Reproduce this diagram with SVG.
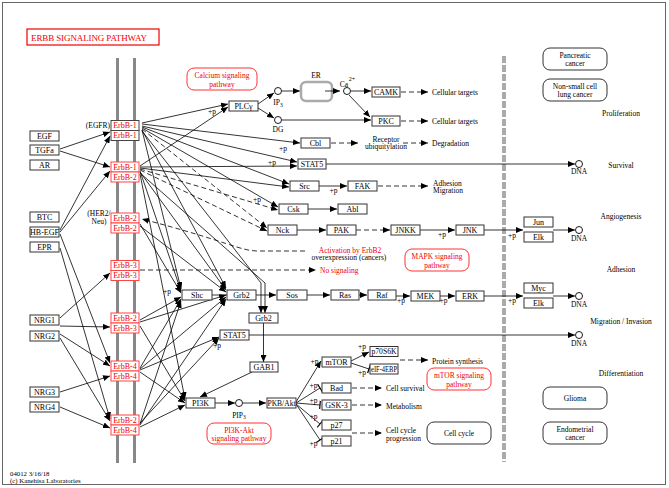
<svg xmlns="http://www.w3.org/2000/svg" width="669" height="488" viewBox="0 0 669 488">
<defs>
<marker id="a" markerUnits="userSpaceOnUse" markerWidth="7" markerHeight="6" refX="7" refY="3" orient="auto" viewBox="0 0 7 6"><path d="M0,0 L7,3 L0,6 z" fill="#000"/></marker>
<marker id="t" markerUnits="userSpaceOnUse" markerWidth="2" markerHeight="9" refX="1" refY="4.5" orient="auto" viewBox="0 0 2 9"><path d="M1,0 V9" stroke="#000" stroke-width="1.2"/></marker>
<style>
text{font-family:"Liberation Serif","Times New Roman",serif;font-size:7.5px;fill:#000}
.c{text-anchor:middle}
.e{text-anchor:end}
.nb rect{fill:#fff;stroke:#333;stroke-width:1}
.nb text{font-size:8px;text-anchor:middle}
.rc rect{fill:#fff;stroke:#f44;stroke-width:1}
.rc text{font-size:8px;text-anchor:middle;fill:#e00}
.rk rect{stroke:#444}
.pw rect{fill:#fff;stroke:#f33;stroke-width:1}
.pw text{fill:#e00;text-anchor:middle}
.ob rect{fill:#fff;stroke:#333;stroke-width:1}
.ob text{text-anchor:middle}
.red{fill:#e00}
.sm{font-size:6.8px}
.cn line,.cn path,.cn polyline{stroke:#000;stroke-width:0.8;fill:none}
.ar{marker-end:url(#a)}
.inh{marker-end:url(#t)}
.d{stroke-dasharray:5,3}
.mem{stroke:#888;stroke-width:3}
circle.o{fill:#fff;stroke:#000;stroke-width:0.9}
</style>
</defs>
<rect x="0" y="0" width="669" height="488" fill="#fff"/>
<rect x="2.5" y="2.5" width="663" height="482" fill="none" stroke="#666" stroke-width="1"/>

<g id="title"><rect x="27" y="29" width="132" height="16" fill="#fff" stroke="#e00" stroke-width="1.2"/><text x="31" y="41" class="red" style="font-size:9px" textLength="116" lengthAdjust="spacing">ERBB  SIGNALING  PATHWAY</text></g>

<g id="membrane"><line class="mem" x1="117.5" y1="58" x2="117.5" y2="463"/><line class="mem" x1="134.5" y1="58" x2="134.5" y2="463"/></g>
<line x1="504" y1="56" x2="504" y2="462" stroke="#aaa" stroke-width="4" stroke-dasharray="7,2"/>

<g id="connectors" class="cn">
<line class="ar" x1="60" y1="149" x2="110" y2="132"/>
<line class="ar" x1="60" y1="151" x2="110" y2="167"/>
<line class="ar" x1="60" y1="230" x2="110" y2="136"/>
<line class="ar" x1="60" y1="232" x2="110" y2="171"/>
<line class="ar" x1="60" y1="234" x2="110" y2="363"/>
<line class="ar" x1="60" y1="248" x2="110" y2="419"/>
<line class="ar" x1="60" y1="318" x2="110" y2="273"/>
<line class="ar" x1="60" y1="326" x2="110" y2="327"/>
<line class="ar" x1="60" y1="334" x2="110" y2="366"/>
<line class="ar" x1="60" y1="338" x2="110" y2="421"/>
<line class="ar" x1="60" y1="392" x2="110" y2="376"/>
<line class="ar" x1="60" y1="407" x2="110" y2="428"/>
<line class="ar" x1="142" y1="123" x2="228" y2="104"/>
<line class="ar" x1="142" y1="124" x2="300" y2="143"/>
<line class="ar" x1="142" y1="126" x2="297" y2="162"/>
<line class="ar" x1="142" y1="127" x2="289" y2="184"/>
<line class="ar" x1="142" y1="128" x2="278" y2="207"/>
<line class="ar d" x1="142" y1="129" x2="267" y2="228"/>
<line class="ar" x1="142" y1="130" x2="181" y2="289"/>
<line class="ar" x1="142" y1="130" x2="226" y2="288"/>
<polyline class="ar" points="142,131 261,283 261,313"/>
<line class="ar" x1="140" y1="166" x2="228" y2="107"/>
<line class="ar" x1="140" y1="167" x2="297" y2="166"/>
<line class="ar" x1="140" y1="168" x2="289" y2="187"/>
<line class="ar d" x1="140" y1="169" x2="278" y2="210"/>
<line class="ar d" x1="140" y1="170" x2="267" y2="231"/>
<line class="ar" x1="140" y1="171" x2="181" y2="291"/>
<line class="ar" x1="140" y1="172" x2="226" y2="290"/>
<polyline class="ar" points="140,173 265,283 265,313"/>
<line class="ar" x1="140" y1="174" x2="185" y2="399"/>
<line class="ar" x1="140" y1="224" x2="181" y2="293"/>
<line class="ar" x1="140" y1="226" x2="226" y2="292"/>
<path class="ar d" d="M305,251 L258,251 C240,251 230,242 142,219"/>
<line class="ar d" x1="140" y1="270" x2="316" y2="270"/>
<line class="ar" x1="140" y1="320" x2="181" y2="297"/>
<line class="ar" x1="140" y1="322" x2="226" y2="295"/>
<line class="ar" x1="140" y1="326" x2="185" y2="401"/>
<line class="ar" x1="140" y1="368" x2="181" y2="299"/>
<line class="ar" x1="140" y1="369" x2="226" y2="297"/>
<line class="ar" x1="140" y1="372" x2="185" y2="403"/>
<line class="ar" x1="140" y1="370" x2="219" y2="337"/>
<line class="ar" x1="140" y1="424" x2="181" y2="301"/>
<line class="ar" x1="140" y1="425" x2="226" y2="299"/>
<line class="ar" x1="140" y1="427" x2="185" y2="405"/>
<line class="ar" x1="140" y1="423" x2="219" y2="338"/>
<line class="ar" x1="258" y1="104" x2="274" y2="93"/>
<line class="ar" x1="258" y1="108" x2="274" y2="118"/>
<line class="ar" x1="282" y1="91" x2="300" y2="91"/>
<line class="ar" x1="351" y1="91" x2="371" y2="91"/>
<line class="ar" x1="349" y1="95" x2="370" y2="117"/>
<line class="ar" x1="282" y1="120" x2="371" y2="120"/>
<line class="ar d" x1="401" y1="92" x2="428" y2="92"/>
<line class="ar d" x1="401" y1="121" x2="428" y2="121"/>
<line class="ar d" x1="331" y1="143" x2="358" y2="143"/>
<line class="ar d" x1="403" y1="143" x2="428" y2="143"/>
<line class="ar" x1="326" y1="164" x2="575" y2="164"/>
<line class="ar" x1="319" y1="186" x2="347" y2="186"/>
<line class="ar d" x1="378" y1="186" x2="428" y2="186"/>
<line class="ar" x1="308" y1="209" x2="337" y2="209"/>
<line class="ar" x1="297" y1="230" x2="326" y2="230"/>
<line class="ar d" x1="356" y1="230" x2="390" y2="230"/>
<line class="ar" x1="420" y1="230" x2="455" y2="230"/>
<line class="ar" x1="484" y1="230" x2="523" y2="230"/>
<line class="ar" x1="553" y1="230" x2="575" y2="230"/>
<line x1="212" y1="295" x2="227" y2="295"/>
<line class="ar" x1="256" y1="295" x2="276" y2="295"/>
<line class="ar" x1="307" y1="295" x2="330" y2="295"/>
<line class="ar" x1="359" y1="295" x2="367" y2="295"/>
<line class="ar" x1="396" y1="296" x2="410" y2="296"/>
<line class="ar" x1="440" y1="296" x2="455" y2="296"/>
<line class="ar" x1="484" y1="296" x2="523" y2="296"/>
<line class="ar" x1="553" y1="296" x2="575" y2="296"/>
<line class="ar" x1="249" y1="335" x2="575" y2="335"/>
<line class="ar" x1="263.5" y1="323" x2="263.5" y2="362"/>
<line class="ar" x1="252" y1="372" x2="200" y2="397"/>
<line class="ar" x1="215" y1="403" x2="235" y2="403"/>
<line class="ar" x1="243" y1="403" x2="266" y2="403"/>
<line class="ar" x1="296" y1="402" x2="321" y2="361"/>
<line class="inh" x1="296" y1="403" x2="320" y2="388"/>
<line class="inh" x1="296" y1="403" x2="320" y2="405"/>
<line class="inh" x1="296" y1="404" x2="320" y2="424"/>
<line class="inh" x1="296" y1="404" x2="320" y2="440"/>
<line class="ar" x1="351" y1="361" x2="369" y2="352"/>
<line class="inh" x1="351" y1="363" x2="369" y2="369"/>
<line class="ar d" x1="400" y1="360" x2="428" y2="360"/>
<line class="ar d" x1="352" y1="388" x2="382" y2="388"/>
<line class="ar d" x1="352" y1="405" x2="382" y2="405"/>
<line class="ar d" x1="352" y1="433" x2="382" y2="433"/>
</g>

<g id="circles">
<circle class="o" cx="278" cy="91" r="3.5"/><circle class="o" cx="278" cy="120" r="3.5"/><circle class="o" cx="347" cy="91" r="3.5"/><circle class="o" cx="239" cy="403" r="3.5"/>
<circle class="o" cx="579" cy="164" r="3.5"/><circle class="o" cx="579" cy="230" r="3.5"/><circle class="o" cx="579" cy="296" r="3.5"/><circle class="o" cx="579" cy="335" r="3.5"/>
</g>

<g id="ER"><rect x="301" y="82" width="31" height="19" rx="5" fill="#fff" stroke="#aaa" stroke-width="2.5"/></g>
<g id="connectors-er" class="cn"><line class="ar" x1="325" y1="91" x2="340" y2="91"/></g>

<g class="nb">
<g id="EGF"><rect x="30" y="131" width="29" height="10"/><text x="44.5" y="138.8">EGF</text></g>
<g id="TGFa"><rect x="30" y="145" width="29" height="10"/><text x="44.5" y="152.8">TGFa</text></g>
<g id="AR"><rect x="30" y="160" width="29" height="10"/><text x="44.5" y="167.8">AR</text></g>
<g id="BTC"><rect x="30" y="212" width="29" height="10"/><text x="44.5" y="219.8">BTC</text></g>
<g id="HB-EGF"><rect x="30" y="227" width="29" height="10"/><text x="44.5" y="234.8">HB-EGF</text></g>
<g id="EPR"><rect x="30" y="242" width="29" height="10"/><text x="44.5" y="249.8">EPR</text></g>
<g id="NRG1"><rect x="30" y="315" width="29" height="10"/><text x="44.5" y="322.8">NRG1</text></g>
<g id="NRG2"><rect x="30" y="331" width="29" height="10"/><text x="44.5" y="338.8">NRG2</text></g>
<g id="NRG3"><rect x="30" y="387" width="29" height="10"/><text x="44.5" y="394.8">NRG3</text></g>
<g id="NRG4"><rect x="30" y="402" width="29" height="10"/><text x="44.5" y="409.8">NRG4</text></g>
<g id="PLCg"><rect x="229" y="101" width="29" height="10"/><text x="243.5" y="108.8">PLCγ</text></g>
<g id="CAMK"><rect x="372" y="87" width="28" height="10"/><text x="386" y="94.8">CAMK</text></g>
<g id="PKC"><rect x="372" y="116" width="28" height="10"/><text x="386" y="123.8">PKC</text></g>
<g id="Cbl"><rect x="301" y="138" width="29" height="10"/><text x="315.5" y="145.8">Cbl</text></g>
<g id="STAT5a"><rect x="298" y="159" width="28" height="10"/><text x="312" y="166.8">STAT5</text></g>
<g id="Src"><rect x="290" y="181" width="29" height="10"/><text x="304.5" y="188.8">Src</text></g>
<g id="FAK"><rect x="348" y="181" width="29" height="10"/><text x="362.5" y="188.8">FAK</text></g>
<g id="Csk"><rect x="279" y="204" width="29" height="10"/><text x="293.5" y="211.8">Csk</text></g>
<g id="Abl"><rect x="338" y="204" width="29" height="10"/><text x="352.5" y="211.8">Abl</text></g>
<g id="Nck"><rect x="268" y="225" width="29" height="10"/><text x="282.5" y="232.8">Nck</text></g>
<g id="PAK"><rect x="327" y="225" width="29" height="10"/><text x="341.5" y="232.8">PAK</text></g>
<g id="JNKK"><rect x="391" y="225" width="29" height="10"/><text x="405.5" y="232.8">JNKK</text></g>
<g id="JNK"><rect x="456" y="225" width="28" height="10"/><text x="470" y="232.8">JNK</text></g>
<g id="Jun"><rect x="524" y="217" width="29" height="10"/><text x="538.5" y="224.8">Jun</text></g>
<g id="Elk1"><rect x="524" y="232" width="29" height="10"/><text x="538.5" y="239.8">Elk</text></g>
<g id="Shc"><rect x="182" y="290" width="30" height="10"/><text x="197" y="297.8">Shc</text></g>
<g id="Grb2a"><rect x="227" y="290" width="29" height="10"/><text x="241.5" y="297.8">Grb2</text></g>
<g id="Sos"><rect x="277" y="290" width="30" height="10"/><text x="292" y="297.8">Sos</text></g>
<g id="Ras"><rect x="331" y="290" width="28" height="10"/><text x="345" y="297.8">Ras</text></g>
<g id="Raf"><rect x="368" y="290" width="28" height="10"/><text x="382" y="297.8">Raf</text></g>
<g id="MEK"><rect x="411" y="291" width="29" height="10"/><text x="425.5" y="298.8">MEK</text></g>
<g id="ERK"><rect x="456" y="291" width="28" height="10"/><text x="470" y="298.8">ERK</text></g>
<g id="Myc"><rect x="524" y="283" width="29" height="10"/><text x="538.5" y="290.8">Myc</text></g>
<g id="Elk2"><rect x="524" y="298" width="29" height="10"/><text x="538.5" y="305.8">Elk</text></g>
<g id="Grb2b"><rect x="249" y="313" width="29" height="10"/><text x="263.5" y="320.8">Grb2</text></g>
<g id="STAT5b"><rect x="220" y="330" width="29" height="10"/><text x="234.5" y="337.8">STAT5</text></g>
<g id="GAB1"><rect x="250" y="362" width="28" height="10"/><text x="264" y="369.8">GAB1</text></g>
<g id="PI3K"><rect x="186" y="398" width="29" height="10"/><text x="200.5" y="405.8">PI3K</text></g>
<g id="PKBAkt"><rect x="267" y="398" width="29" height="10"/><text x="281.5" y="405.8" textLength="28" lengthAdjust="spacingAndGlyphs">PKB/Akt</text></g>
<g id="mTOR"><rect x="322" y="357" width="29" height="10"/><text x="336.5" y="364.8">mTOR</text></g>
<g id="p70S6K"><rect x="370" y="346.5" width="28" height="10"/><text x="384" y="354.3" textLength="25" lengthAdjust="spacingAndGlyphs">p70S6K</text></g>
<g id="eIF4EBP"><rect x="370" y="364" width="28" height="10"/><text x="384" y="371.8" textLength="26" lengthAdjust="spacingAndGlyphs">eIF-4EBP</text></g>
<g id="Bad"><rect x="322" y="383" width="29" height="10"/><text x="336.5" y="390.8">Bad</text></g>
<g id="GSK3"><rect x="322" y="400" width="29" height="10"/><text x="336.5" y="407.8">GSK-3</text></g>
<g id="p27"><rect x="322" y="420" width="29" height="10"/><text x="336.5" y="427.8">p27</text></g>
<g id="p21"><rect x="322" y="436" width="29" height="10"/><text x="336.5" y="443.8">p21</text></g>
</g>

<g class="rc">
<g id="R1" class="rk"><rect x="111" y="120.5" width="28" height="10"/><rect x="111" y="130.5" width="28" height="10"/><text x="125" y="128.3">ErbB-1</text><text x="125" y="138.3">ErbB-1</text></g>
<g id="R2"><rect x="111" y="162" width="28" height="10"/><rect x="111" y="172" width="28" height="10"/><text x="125" y="169.8">ErbB-1</text><text x="125" y="179.8">ErbB-2</text></g>
<g id="R3"><rect x="111" y="213" width="28" height="10"/><rect x="111" y="223" width="28" height="10"/><text x="125" y="220.8">ErbB-2</text><text x="125" y="230.8">ErbB-2</text></g>
<g id="R4"><rect x="111" y="260.5" width="28" height="10"/><rect x="111" y="270.5" width="28" height="10"/><text x="125" y="268.3">ErbB-3</text><text x="125" y="278.3">ErbB-3</text></g>
<g id="R5"><rect x="111" y="313" width="28" height="10"/><rect x="111" y="323" width="28" height="10"/><text x="125" y="320.8">ErbB-2</text><text x="125" y="330.8">ErbB-3</text></g>
<g id="R6"><rect x="111" y="361" width="28" height="10"/><rect x="111" y="371" width="28" height="10"/><text x="125" y="368.8">ErbB-4</text><text x="125" y="378.8">ErbB-4</text></g>
<g id="R7"><rect x="111" y="415" width="28" height="10"/><rect x="111" y="425" width="28" height="10"/><text x="125" y="422.8">ErbB-2</text><text x="125" y="432.8">ErbB-4</text></g>
</g>

<g class="pw">
<g id="pw-calcium"><rect x="187" y="68" width="70" height="22" rx="7"/><text x="222" y="78">Calcium signaling</text><text x="222" y="86.5">pathway</text></g>
<g id="pw-mapk"><rect x="405" y="249" width="64" height="22" rx="7"/><text x="437" y="259">MAPK signaling</text><text x="437" y="267.5">pathway</text></g>
<g id="pw-pi3k"><rect x="207" y="423" width="64" height="21" rx="7"/><text x="239" y="432.5">PI3K-Akt</text><text x="239" y="441">signaling pathway</text></g>
<g id="pw-mtor"><rect x="427" y="368" width="64" height="22" rx="7"/><text x="459" y="378">mTOR signaling</text><text x="459" y="386.5">pathway</text></g>
</g>
<g class="ob">
<g id="cellcycle"><rect x="427" y="422" width="64" height="22" rx="7"/><text x="459" y="435.5">Cell cycle</text></g>
<g id="pancreatic"><rect x="543" y="48" width="64" height="22" rx="7"/><text x="575" y="58">Pancreatic</text><text x="575" y="66">cancer</text></g>
<g id="nsclc"><rect x="543" y="79" width="64" height="22" rx="7"/><text x="575" y="89">Non-small cell</text><text x="575" y="97">lung cancer</text></g>
<g id="glioma"><rect x="543" y="387" width="64" height="22" rx="7"/><text x="575" y="400.5">Glioma</text></g>
<g id="endometrial"><rect x="543" y="422" width="64" height="22" rx="7"/><text x="575" y="432">Endometrial</text><text x="575" y="440">cancer</text></g>
</g>

<g id="labels">
<text x="110" y="127.5" class="e">(EGFR)</text>
<text x="99" y="215.5" class="c">(HER2/</text>
<text x="99" y="223.5" class="c">Neu)</text>
<text x="316" y="78" class="c">ER</text>
<text x="278" y="105" class="c">IP<tspan font-size="5.5" dy="1.5">3</tspan></text>
<text x="278" y="132" class="c">DG</text>
<text x="344" y="87" class="c">Ca</text><text x="352" y="81" class="c" style="font-size:6px">2+</text>
<text x="432" y="94.5">Cellular targets</text>
<text x="432" y="123.5">Cellular targets</text>
<text x="386" y="141.5" class="c">Receptor</text>
<text x="386" y="149" class="c">ubiquitylation</text>
<text x="432" y="145.5">Degradation</text>
<text x="433" y="185.5">Adhesion</text>
<text x="433" y="193">Migration</text>
<text x="579" y="174" class="c">DNA</text>
<text x="579" y="241" class="c">DNA</text>
<text x="579" y="307" class="c">DNA</text>
<text x="579" y="346" class="c">DNA</text>
<text x="621" y="115.5" class="c">Proliferation</text>
<text x="621" y="167.5" class="c">Survival</text>
<text x="621" y="219" class="c">Angiogenesis</text>
<text x="621" y="271.5" class="c">Adhesion</text>
<text x="621" y="323.5" class="c">Migration / Invasion</text>
<text x="621" y="375.5" class="c">Differentiation</text>
<text x="350" y="252.5" class="c red">Activation by ErbB2</text>
<text x="349" y="260" class="c">overexpression (cancers)</text>
<text x="320" y="273" class="red">No signaling</text>
<text x="239" y="417.5" class="c">PIP<tspan font-size="5.5" dy="1.5">3</tspan></text>
<text x="432" y="364">Protein synthesis</text>
<text x="386" y="391">Cell survival</text>
<text x="386" y="408.5">Metabolism</text>
<text x="386" y="433">Cell cycle</text>
<text x="386" y="440.5">progression</text>
<text x="10" y="475.5" class="sm">04012 3/16/18</text>
<text x="10" y="483" class="sm">(c) Kanehisa Laboratories</text>
<text x="208" y="113.5">+p</text>
<text x="279" y="150.5">+p</text>
<text x="268" y="164.5">+p</text>
<text x="329.5" y="193">+p</text>
<text x="253" y="201.5">+p</text>
<text x="438" y="236.5">+p</text>
<text x="508" y="237.5">+p</text>
<text x="163" y="294">+p</text>
<text x="397" y="303">+p</text>
<text x="439.5" y="302.5">+p</text>
<text x="508" y="303">+p</text>
<text x="213" y="347.5">+p</text>
<text x="310.5" y="364">+p</text>
<text x="358" y="349">+p</text>
<text x="358" y="375">+p</text>
<text x="309.5" y="387.5">+p</text>
<text x="309.5" y="402.5">+p</text>
<text x="309.5" y="419">+p</text>
<text x="309.5" y="445.5">+p</text>
</g>
</svg>
